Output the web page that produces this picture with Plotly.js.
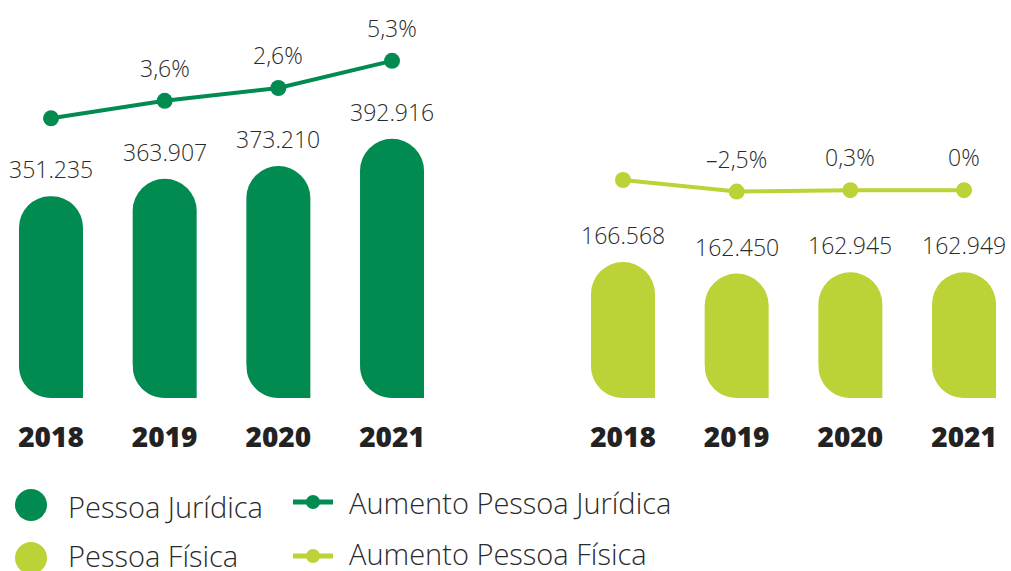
<!DOCTYPE html>
<html><head><meta charset="utf-8">
<script src="https://cdn.plot.ly/plotly-3.0.1.min.js"></script>
<style>html,body{margin:0;padding:0;background:#fff}#chart{width:1011px;height:571px}</style>
</head><body><div id="chart"></div>
<script>
// ---- data ----
const years = ['2018', '2019', '2020', '2021'];
const pjValues = [351235, 363907, 373210, 392916];
const pfValues = [166568, 162450, 162945, 162949];
const pjGrowth = ['', '3,6%', '2,6%', '5,3%'];
const pfGrowth = ['', '–2,5%', '0,3%', '0%'];
const legendBars = ['Pessoa Jurídica', 'Pessoa Física'];
const legendLines = ['Aumento Pessoa Jurídica', 'Aumento Pessoa Física'];

// ---- style ----
const DARK = '#028B51', LIGHT = '#BDD236', TXT = '#2A2A2A';
const FONT = 'Open Sans, Noto Sans, sans-serif';
const W = 1011, H = 571;
const px = v => v / W, py = v => 1 - v / H;
const fmt = v => String(v).replace(/\B(?=(\d{3})+(?!\d))/g, '.');

const yPJ = [204880, 493669], yPJline = [148283, 437072];
const yPF = [118416, 259308], yPFline = [89388, 230280];

const barW = 0.563;
const traces = [
  {type: 'bar', x: years, y: pjValues, xaxis: 'x', yaxis: 'y', width: barW,
   marker: {color: DARK, cornerradius: 32}, hoverinfo: 'x+y', showlegend: false},
  {type: 'scatter', mode: 'lines+markers', x: years, y: pjValues, xaxis: 'x', yaxis: 'y3',
   line: {color: DARK, width: 4}, marker: {color: DARK, size: 16}, showlegend: false},
  {type: 'bar', x: years, y: pfValues, xaxis: 'x2', yaxis: 'y2', width: barW,
   marker: {color: LIGHT, cornerradius: 32}, hoverinfo: 'x+y', showlegend: false},
  {type: 'scatter', mode: 'lines+markers', x: years, y: pfValues, xaxis: 'x2', yaxis: 'y4',
   line: {color: LIGHT, width: 4}, marker: {color: LIGHT, size: 16}, showlegend: false}
];

// white mask that rounds the bottom-left corner of each bar (pixel path, y up)
const CORNER = 'M -36,33 L -36,-4 L 0,-4 L 0,0 C -17.67,0 -32,14.33 -32,32 L -32,33 Z';

const annotations = [];
const shapes = [];
function addGroup(vals, growth, xr, yr, ylr, ybase) {
  years.forEach((cat, i) => {
    annotations.push({x: i, y: vals[i], xref: xr, yref: yr, text: fmt(vals[i]), showarrow: false,
      yshift: 27, yanchor: 'middle', font: {family: FONT, size: 23, color: TXT, weight: 300}});
    if (growth[i]) annotations.push({x: i, y: vals[i], xref: xr, yref: ylr, text: growth[i], showarrow: false,
      yshift: 33, yanchor: 'middle', font: {family: FONT, size: 23, color: TXT, weight: 300}});
    shapes.push({type: 'path', xref: xr, yref: yr, xsizemode: 'pixel', ysizemode: 'pixel',
      xanchor: i, yanchor: ybase, layer: 'above', fillcolor: '#ffffff', line: {width: 0},
      path: CORNER});
  });
}
addGroup(pjValues, pjGrowth, 'x', 'y', 'y3', yPJ[0]);
addGroup(pfValues, pfGrowth, 'x2', 'y2', 'y4', yPF[0]);

// legend (manual)
const barColors = [DARK, LIGHT];
const rowY = [506, 555];
legendBars.forEach((t, i) => {
  const cy = [505, 558][i];
  shapes.push({type: 'circle', xref: 'paper', yref: 'paper', x0: px(15), x1: px(47),
    y0: py(cy + 16), y1: py(cy - 16), fillcolor: barColors[i], line: {width: 0}});
  annotations.push({x: px(66), y: py(rowY[i]), xref: 'paper', yref: 'paper', text: t, showarrow: false,
    xanchor: 'left', yanchor: 'middle', font: {family: FONT, size: 29, color: TXT, weight: 300}});
});
const lineRowY = [502, 556];
const lineTextY = [502, 553];
legendLines.forEach((t, i) => {
  shapes.push({type: 'line', xref: 'paper', yref: 'paper', x0: px(293), x1: px(333),
    y0: py(lineRowY[i]), y1: py(lineRowY[i]), line: {color: barColors[i], width: 5}});
  shapes.push({type: 'circle', xref: 'paper', yref: 'paper', x0: px(306), x1: px(320),
    y0: py(lineRowY[i] + 7), y1: py(lineRowY[i] - 7), fillcolor: barColors[i], line: {width: 0}});
  annotations.push({x: px(347), y: py(lineTextY[i]), xref: 'paper', yref: 'paper', text: t, showarrow: false,
    xanchor: 'left', yanchor: 'middle', font: {family: FONT, size: 29, color: TXT, weight: 300}});
});

const xBase = {type: 'category', showgrid: false, zeroline: false, showline: false, ticks: '',
  tickfont: {family: FONT, size: 28, color: '#222', weight: 800}, ticklabelstandoff: 20, fixedrange: true};
const yBase = {visible: false, showgrid: false, zeroline: false, fixedrange: true};

const layout = {
  width: W, height: H, margin: {l: 0, r: 0, t: 0, b: 0},
  paper_bgcolor: '#ffffff', plot_bgcolor: 'rgba(0,0,0,0)', showlegend: false,
  font: {family: FONT, color: TXT},
  xaxis: Object.assign({}, xBase, {domain: [0, px(450)], range: [-0.4487, 3.51], anchor: 'y'}),
  xaxis2: Object.assign({}, xBase, {domain: [px(560), 1], range: [-0.554, 3.413], anchor: 'y2'}),
  yaxis: Object.assign({}, yBase, {domain: [py(398), 1], range: yPJ, anchor: 'x'}),
  yaxis2: Object.assign({}, yBase, {domain: [py(398), 1], range: yPF, anchor: 'x2'}),
  yaxis3: Object.assign({}, yBase, {overlaying: 'y', range: yPJline, anchor: 'x'}),
  yaxis4: Object.assign({}, yBase, {overlaying: 'y2', range: yPFline, anchor: 'x2'}),
  annotations: annotations, shapes: shapes
};
Plotly.newPlot('chart', traces, layout, {displayModeBar: false, staticPlot: true});
</script></body></html>
